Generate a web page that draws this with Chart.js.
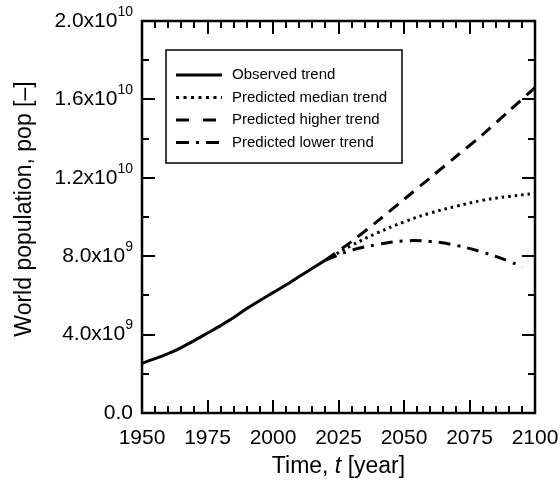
<!DOCTYPE html>
<html>
<head>
<meta charset="utf-8">
<script src="https://cdn.jsdelivr.net/npm/chart.js@4"></script>
<style>
html,body{margin:0;padding:0;background:#fff;}
#wrap{width:560px;height:481px;}
</style>
</head>
<body>
<div id="wrap"><canvas id="c" width="560" height="481"></canvas></div>
<script>
// ---- data ----
const obsYears = [1950,1955,1960,1965,1970,1975,1980,1985,1990,1995,2000,2005,2010,2015,2020];
const obsPop   = [2.54e9,2.77e9,3.03e9,3.34e9,3.70e9,4.08e9,4.46e9,4.87e9,5.33e9,5.74e9,6.14e9,6.54e9,6.96e9,7.38e9,7.80e9];
const projYears = [2020,2030,2040,2050,2060,2070,2080,2090,2100];
const medianPop = [7.80e9,8.55e9,9.20e9,9.75e9,10.20e9,10.55e9,10.85e9,11.05e9,11.20e9];
const higherPop = [7.80e9,8.75e9,9.80e9,10.90e9,12.00e9,13.10e9,14.20e9,15.40e9,16.60e9];
const lowYears  = [2020,2030,2040,2050,2060,2070,2080,2090,2095];
const lowerPop  = [7.80e9,8.30e9,8.60e9,8.78e9,8.75e9,8.55e9,8.20e9,7.75e9,7.45e9];
const seriesNames = ['Observed trend','Predicted median trend','Predicted higher trend','Predicted lower trend'];
const xMajorTicks = [1950,1975,2000,2025,2050,2075,2100];
const yMajorTicks = [0,4e9,8e9,1.2e10,1.6e10,2e10];
const xTitle = ['Time, ','t',' [year]'];
const yTitle = 'World population, pop [\u2013]';

const pts = (xs, ys) => xs.map((x,i)=>({x:x,y:ys[i]}));
const FONT = '"Liberation Sans", Arial, Helvetica, sans-serif';

const decor = {
  id:'decor',
  afterDraw(chart){
    const ctx = chart.ctx, a = chart.chartArea;
    const xs = chart.scales.x, ys = chart.scales.y;
    ctx.save();
    ctx.strokeStyle = '#000'; ctx.fillStyle = '#000';
    // ticks (inward, all four sides)
    ctx.lineWidth = 2;
    ctx.beginPath();
    for (let yr = 1950; yr <= 2100; yr += 5) {
      const px = Math.round(xs.getPixelForValue(yr));
      const len = (yr % 25 === 0) ? 13 : 7;
      ctx.moveTo(px, a.bottom); ctx.lineTo(px, a.bottom - len);
      ctx.moveTo(px, a.top); ctx.lineTo(px, a.top + len);
    }
    for (let v = 0; v <= 2e10; v += 2e9) {
      const py = Math.round(ys.getPixelForValue(v));
      const len = (Math.round(v/2e9) % 2 === 0) ? 13 : 7;
      ctx.moveTo(a.left, py); ctx.lineTo(a.left + len, py);
      ctx.moveTo(a.right, py); ctx.lineTo(a.right - len, py);
    }
    ctx.stroke();
    // frame
    ctx.lineWidth = 2.5;
    ctx.strokeRect(a.left, a.top, a.right - a.left, a.bottom - a.top);

    // x tick labels
    ctx.font = '21px ' + FONT;
    ctx.textAlign = 'center'; ctx.textBaseline = 'middle';
    xMajorTicks.forEach(v => ctx.fillText(String(v), xs.getPixelForValue(v), a.bottom + 25));
    // y tick labels with superscript
    const rightEdge = a.left - 9;
    yMajorTicks.forEach(v => {
      const py = ys.getPixelForValue(v);
      ctx.textBaseline = 'middle';
      if (v === 0) {
        ctx.font = '21px ' + FONT; ctx.textAlign = 'right';
        ctx.fillText('0.0', rightEdge, py);
        return;
      }
      const e = Math.floor(Math.log10(v) + 1e-9);
      const m = (v / Math.pow(10, e)).toFixed(1);
      ctx.font = '14px ' + FONT;
      const sup = String(e);
      const sw = ctx.measureText(sup).width;
      ctx.textAlign = 'right';
      ctx.fillText(sup, rightEdge, py - 9);
      ctx.font = '21px ' + FONT;
      ctx.fillText(m + 'x10', rightEdge - sw, py);
    });
    // x title with italic t
    ctx.textBaseline = 'middle'; ctx.textAlign = 'left';
    const fonts = ['23px ' + FONT, 'italic 23px ' + FONT, '23px ' + FONT];
    let tw = 0;
    xTitle.forEach((s,i) => { ctx.font = fonts[i]; tw += ctx.measureText(s).width; });
    let tx = (a.left + a.right) / 2 - tw / 2;
    xTitle.forEach((s,i) => { ctx.font = fonts[i]; ctx.fillText(s, tx, 467); tx += ctx.measureText(s).width; });
    // y title
    ctx.save();
    ctx.translate(25, 209);
    ctx.rotate(-Math.PI / 2);
    ctx.font = '23px ' + FONT; ctx.textAlign = 'center';
    ctx.fillText(yTitle, 0, 0);
    ctx.restore();

    // legend
    const lx = 166, ly = 50, lw = 236, lh = 113;
    ctx.lineWidth = 1.5; ctx.strokeStyle = '#000';
    ctx.fillStyle = '#fff';
    ctx.fillRect(lx, ly, lw, lh);
    ctx.strokeRect(lx, ly, lw, lh);
    ctx.fillStyle = '#000';
    ctx.font = '15px ' + FONT; ctx.textAlign = 'left'; ctx.textBaseline = 'middle';
    chart.data.datasets.forEach((ds, i) => {
      const ry = 75 + i * 22.5;
      ctx.save();
      ctx.strokeStyle = ds.borderColor; ctx.lineWidth = ds.borderWidth;
      ctx.setLineDash(ds.legendDash || []);
      ctx.beginPath(); ctx.moveTo(176, ry); ctx.lineTo(222, ry); ctx.stroke();
      ctx.restore();
      ctx.fillText(ds.label, 232, ry);
    });
    ctx.restore();
  }
};

new Chart(document.getElementById('c'), {
  type: 'line',
  data: {
    datasets: [
      {label: seriesNames[0], data: pts(obsYears, obsPop), borderColor:'#000', borderWidth:3, pointRadius:0, tension:0.3, fill:false, legendDash:[]},
      {label: seriesNames[1], data: pts(projYears, medianPop), borderColor:'#000', borderWidth:3, borderDash:[2.5,4], pointRadius:0, tension:0.4, fill:false, legendDash:[3,4.5]},
      {label: seriesNames[2], data: pts(projYears, higherPop), borderColor:'#000', borderWidth:3, borderDash:[12,8], pointRadius:0, tension:0.3, fill:false, legendDash:[13,14]},
      {label: seriesNames[3], data: pts(lowYears, lowerPop), borderColor:'#000', borderWidth:3, borderDash:[12,7,3,7], pointRadius:0, tension:0.4, fill:false, legendDash:[13,7,3,7]}
    ]
  },
  options: {
    responsive:false, animation:false, devicePixelRatio:1,
    layout:{padding:{left:142,right:25,top:21,bottom:68}},
    plugins:{legend:{display:false}, tooltip:{enabled:false}},
    scales:{
      x:{type:'linear', min:1950, max:2100, display:true,
         ticks:{display:false}, grid:{display:false}, border:{display:false},
         afterFit(s){ s.height = 0; }},
      y:{type:'linear', min:0, max:2e10, display:true,
         ticks:{display:false}, grid:{display:false}, border:{display:false},
         afterFit(s){ s.width = 0; }}
    }
  },
  plugins:[decor]
});
</script>
</body>
</html>
